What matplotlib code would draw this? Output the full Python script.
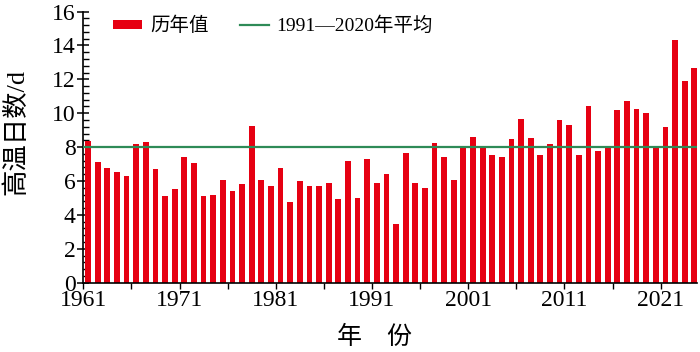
import matplotlib
matplotlib.use("Agg")
import matplotlib.pyplot as plt
from matplotlib.ticker import MultipleLocator, FixedLocator
import numpy as np

plt.rcParams['font.family'] = ['Liberation Serif', 'Noto Sans CJK SC']

years = list(range(1961, 2025))
days = [8.35, 7.11, 6.74, 6.52, 6.30, 8.19, 8.29, 6.68, 5.14, 5.52,
        7.42, 7.09, 5.14, 5.20, 6.07, 5.42, 5.83, 9.22, 6.05, 5.71,
        6.79, 4.79, 6.03, 5.69, 5.73, 5.89, 4.91, 7.19, 4.97, 7.29,
        5.89, 6.44, 3.49, 7.68, 5.87, 5.58, 8.27, 7.42, 6.07, 7.98,
        8.58, 7.93, 7.56, 7.40, 8.48, 9.66, 8.56, 7.52, 8.19, 9.59,
        9.29, 7.54, 10.41, 7.80, 8.01, 10.22, 10.75, 10.28, 10.02, 7.98,
        9.19, 14.33, 11.91, 12.67]
mean_value = 8.0

fig = plt.figure(figsize=(7, 3.52), dpi=100)
ax = fig.add_axes([0.119, 0.197, 0.877, 0.77])

x = np.array(years) + 0.5
bars = ax.bar(x, days, width=0.6, color='#e60012', label='历年值', zorder=2)
line = ax.axhline(mean_value, color='#2e8b57', linewidth=1.6, label='1991—2020年平均', zorder=3)

ax.set_xlim(1961, 2024.8)
ax.set_ylim(0, 16)

ax.xaxis.set_major_locator(FixedLocator(list(range(1961, 2025, 10))))
ax.xaxis.set_minor_locator(FixedLocator(list(range(1966, 2025, 10))))
ax.yaxis.set_major_locator(MultipleLocator(2))
ax.yaxis.set_minor_locator(MultipleLocator(0.4))

ax.spines['top'].set_visible(False)
ax.spines['right'].set_visible(False)
ax.spines['left'].set_linewidth(1.2)
ax.spines['bottom'].set_linewidth(1.2)

ax.tick_params(axis='y', which='major', direction='inout', length=9, width=1.1, labelsize=17, pad=1)
ax.tick_params(axis='y', which='minor', direction='in', length=4, width=1.0)
ax.tick_params(axis='x', which='both', direction='out', length=4, width=1.0, labelsize=17, pad=1)

ax.set_ylabel('高温日数/d', fontsize=19)
ax.yaxis.set_label_coords(-0.089, 0.555)
ax.set_xlabel('年\u3000份', fontsize=18)
ax.xaxis.set_label_coords(0.475, -0.16)

ax.legend([bars, line], ['历年值', '1991—2020年平均'], loc='upper left', ncol=2,
          frameon=False, fontsize=14, handlelength=1.5, handleheight=0.4,
          columnspacing=1.6, handletextpad=0.4, bbox_to_anchor=(0.02, 1.045))

fig.savefig('out.png', dpi=100)
